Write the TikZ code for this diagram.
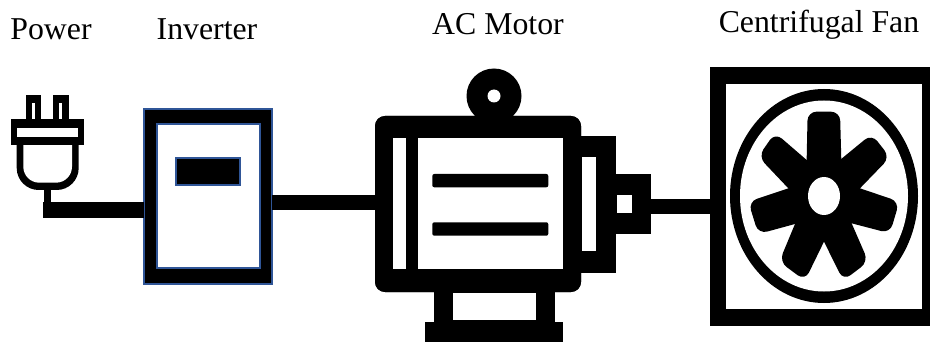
\documentclass[tikz,border=0pt]{standalone}
\usepackage{fontspec}
\setmainfont{Liberation Serif}
\definecolor{frameblue}{HTML}{2F5597}
\tikzset{
  label/.style={anchor=base,inner sep=0pt,font=\fontsize{31.8}{36}\selectfont},
  blk/.style={fill=black,draw=none},
  wht/.style={fill=white,draw=none},
  wire/.style={draw=black,line width=15.5pt},
  box/.style={rectangle,inner sep=0pt,outer sep=0pt},
}
\newcommand{\bx}[5][blk]{\node[box,#1,minimum width=#4pt-#2pt,minimum height=#5pt-#3pt] at ({(#2+#4)/2},{(#3+#5)/2}) {};}
\newcommand{\blade}[4]{\fill[black] (402,408) -- #1 [rounded corners=9pt] -- #2 -- #3 [sharp corners] -- #4 -- cycle;}
\begin{document}
\begin{tikzpicture}[x=1pt,y=-1pt]
\useasboundingbox (0,0) rectangle (930,342);
\fill[white] (0,0) rectangle (930,342);
% labels
\node[label] (lpower) at (51,40) {Power};
\node[label] (linv) at (207,39.5) {Inverter};
\node[label] (lmot) at (498,35) {AC Motor};
\node[label] (lfan) at (819,32.5) {Centrifugal Fan};
% main nodes
\node[box,fill=black,draw=frameblue,line width=2pt,minimum width=128pt,minimum height=175.5pt] (inverter) at (208,196.5) {};
\node[box,fill=white,draw=frameblue,line width=2pt,minimum width=103.5pt,minimum height=144pt] (invscreen) at (208.3,196.3) {};
\node[box,fill=black,draw=frameblue,line width=2pt,minimum width=64pt,minimum height=27.5pt] (display) at (207.5,171.5) {};
\node[box,fill=black,minimum width=206pt,minimum height=176pt,rounded corners=10pt] (motor) at (478,204) {};
\node[box,fill=black,minimum width=220pt,minimum height=259pt] (fan) at (820,196.5) {};
% plug
\coordinate (plugtail) at (43,210);
\coordinate (motorin) at (motor.west |- 0,202.5);
\coordinate (motorout) at (651,206.3);
\draw[wire] (plugtail) -- (plugtail -| inverter.west);
\draw[wire] (inverter.east |- motorin) -- (motorin);
\draw[wire] (motorout) -- (motorout -| fan.west);
\bx{44.3}{188}{51}{203}
\bx{26}{95.3}{41.3}{120}
\bx{53.3}{95.3}{69}{120}
\bx[wht]{32.3}{103.3}{35}{120}
\bx[wht]{59.3}{103.3}{62.3}{120}
\fill[black,rounded corners=22pt] (16.7,125) -- (16.7,190) -- (78.7,190) [sharp corners] -- (78.7,125) -- cycle;
\fill[white,rounded corners=16pt] (23.3,125) -- (23.3,182.7) -- (72,182.7) [sharp corners] -- (72,125) -- cycle;
\bx{11}{119.3}{84}{145}
\bx[wht]{17.3}{127.7}{78}{137.3}
% motor
\fill[black] (494,96) circle[radius=27.5];
\fill[white] (494,96) circle[radius=6.5];
\bx{434.3}{285}{555}{325}
\bx[wht]{453.3}{293.3}{535.7}{320}
\bx{425}{321.7}{563.3}{341.7}
\bx{575}{135.7}{615.7}{272.7}
\bx[wht]{582.3}{157.3}{596}{251}
\bx{610}{174}{651.3}{234.3}
\bx[wht]{616.7}{195.3}{631.7}{213}
\node[box,fill=black,minimum width=206pt,minimum height=176pt,rounded corners=10pt] at (motor.center) {};
\bx[wht]{418.3}{137.7}{563.3}{269.3}
\bx[wht]{393.3}{137.7}{406}{269.3}
\fill[black,rounded corners=2pt] (432.3,174) rectangle (548.3,187.3);
\fill[black,rounded corners=2pt] (432.3,222.3) rectangle (548.3,235.7);
% fan
\bx[wht]{726}{84}{922}{309}
\fill[black] (824,196) ellipse[x radius=94,y radius=107];
\fill[white] (824,196) ellipse[x radius=84,y radius=95.5];
\begin{scope}[shift={(690,60)},x=0.3333pt,y=-0.3333pt]
\fill[black] (352,300)--(452,300)--(510,385)--(485,490)--(402,540)--(315,492)--(295,385)--cycle;
\blade{(350,300)}{(353,155)}{(450,155)}{(454,300)}
\blade{(295,385)}{(205,290)}{(255,218)}{(350,300)}
\blade{(450,300)}{(545,222)}{(600,292)}{(510,385)}
\blade{(295,385)}{(175,425)}{(205,522)}{(315,492)}
\blade{(510,385)}{(628,425)}{(600,520)}{(485,490)}
\blade{(315,492)}{(268,605)}{(345,662)}{(402,545)}
\blade{(485,490)}{(535,605)}{(460,662)}{(402,545)}
\end{scope}
\fill[white] (824,196) ellipse[x radius=16,y radius=19];
\end{tikzpicture}
\end{document}
